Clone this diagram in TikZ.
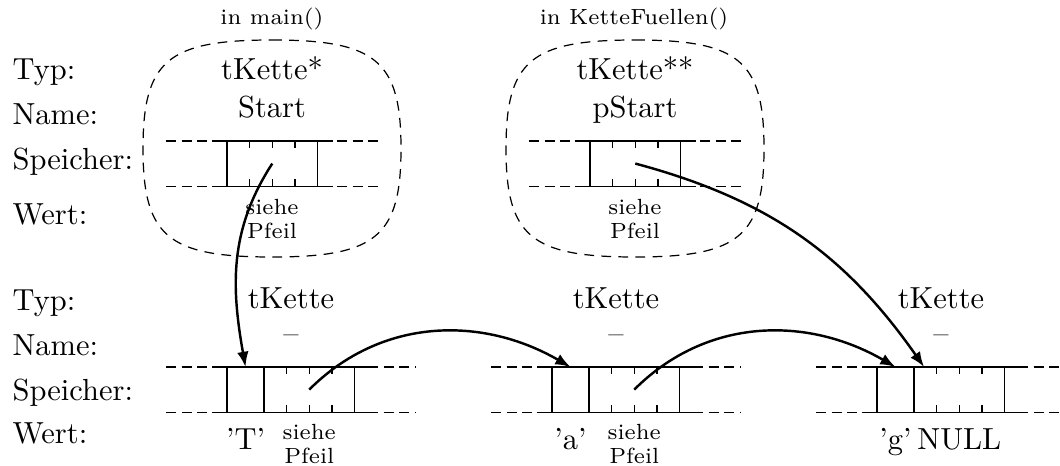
\documentclass[tikz,border=0pt]{standalone}
\usepackage{tikz}
\usetikzlibrary{arrows.meta,positioning,calc}

% short ticks inside a pointer cell (4 bytes)
\newcommand{\ptrticks}[1]{%
  \foreach \f in {0.25,0.5,0.75} {
    \draw ($(#1.north west)!\f!(#1.north east)$) -- ++(0,7);
    \draw ($(#1.south west)!\f!(#1.south east)$) -- ++(0,-7);
  }}
% memory strip around the cells #1 ... #2
\newcommand{\memstrip}[2]{%
  \draw[memdash] ([xshift=-20pt]#1.north west) -- ([xshift=20pt]#2.north east);
  \draw[memdash] ([xshift=-20pt]#1.south west) -- ([xshift=20pt]#2.south east);
  \draw ([xshift=-5pt]#1.north west) -- ([xshift=5pt]#2.north east);
  \draw ([xshift=-5pt]#1.south west) -- ([xshift=5pt]#2.south east);}
% dashed frame of a function scope, centred at x=#1
\newcommand{\scopeframe}[1]{%
  \draw[framedash] (#1,40) .. controls +(104,0) and +(0,-88) .. (#1+129,148.5)
    .. controls +(0,88) and +(104,0) .. (#1,257)
    .. controls +(-104,0) and +(0,88) .. (#1-129,148.5)
    .. controls +(0,-88) and +(-104,0) .. (#1,40);}

\begin{document}
\begin{tikzpicture}[
  x=0.328pt, y=-0.328pt,
  font=\normalsize,
  lbl/.style={anchor=base west, inner sep=0pt},
  txt/.style={anchor=base, inner sep=0pt},
  tiny/.style={font=\fontsize{7.2}{7.9}\selectfont, inner sep=0pt},
  note/.style={tiny, align=center, anchor=north},
  charcell/.style={draw, minimum width=12.14pt, minimum height=14.8pt,
                   inner sep=0pt, outer sep=0pt},
  ptrcell/.style={draw, minimum width=29.7pt, minimum height=14.8pt,
                  inner sep=0pt, outer sep=0pt},
  memdash/.style={dash pattern=on 3.3pt off 1.8pt},
  framedash/.style={dash pattern=on 3.2pt off 2.4pt},
  ptr/.style={-{Latex[length=5pt,width=3.8pt]}, thick}
]
\useasboundingbox (0,0) rectangle (1060,465);

% row labels
\node[lbl] (typA)  at (12,80)  {Typ:};
\node[lbl] (nameA) at (12,125) {Name:};
\node[lbl] (memA)  at (12,170) {Speicher:};
\node[lbl] (valA)  at (12,225) {Wert:};
\node[lbl] (typB)  at (12,310) {Typ:};
\node[lbl] (nameB) at (12,355) {Name:};
\node[lbl] (memB)  at (12,400) {Speicher:};
\node[lbl] (valB)  at (12,443) {Wert:};

% local pointer variables
\scopeframe{272}
\scopeframe{635}
\node[tiny, anchor=base] (fmain) at (272,25) {in main()};
\node[tiny, anchor=base] (ffill) at (634,25) {in KetteFuellen()};

\node[txt] (tS)  at (272,80)  {tKette*};
\node[txt] (nS)  at (272,118) {Start};
\node[txt] (tpS) at (635,80)  {tKette**};
\node[txt] (npS) at (635,118) {pStart};

\node[ptrcell, anchor=north west] (s1) at (227,141) {};
\node[ptrcell, anchor=north west] (s2) at (590,141) {};
\memstrip{s1}{s1}
\memstrip{s2}{s2}
\ptrticks{s1}
\ptrticks{s2}
\node[note] (vS)  at (272,199) {siehe\\Pfeil};
\node[note] (vpS) at (635,199) {siehe\\Pfeil};

% list elements
\node[charcell, anchor=north west] (c1) at (227,367) {};
\node[ptrcell, right=0pt of c1] (p1) {};
\node[charcell, anchor=north west] (c2) at (552,367) {};
\node[ptrcell, right=0pt of c2] (p2) {};
\node[charcell, anchor=north west] (c3) at (877,367) {};
\node[ptrcell, right=0pt of c3] (p3) {};
\memstrip{c1}{p1}
\memstrip{c2}{p2}
\memstrip{c3}{p3}
\ptrticks{p1}
\ptrticks{p2}
\ptrticks{p3}

\foreach \x/\n in {291/1, 616/2, 941/3} {
  \node[txt] (t\n) at (\x,308) {tKette};
  \node[txt] (n\n) at (\x,343) {--};
}

\node[txt] (v1) at (c1.center |- 0,449) {'T'};
\node[note] (w1) at (p1.center |- 0,424) {siehe\\Pfeil};
\node[txt] (v2) at (c2.center |- 0,449) {'a'};
\node[note] (w2) at (p2.center |- 0,424) {siehe\\Pfeil};
\node[txt] (v3) at (c3.center |- 0,449) {'g'};
\node[txt] (w3) at (p3.center |- 0,449) {NULL};

% pointers
\coordinate (q3) at ([xshift=3.3pt]p3.north west);
\draw[ptr] (s1.center) to[out=237, in=100] (c1.north);
\draw[ptr] (s2.center) to[out=-15, in=125] (q3);
\draw[ptr] (p1.center) to[out=45, in=150] (c2.north);
\draw[ptr] (p2.center) to[out=45, in=150] (c3.north);
\end{tikzpicture}
\end{document}
